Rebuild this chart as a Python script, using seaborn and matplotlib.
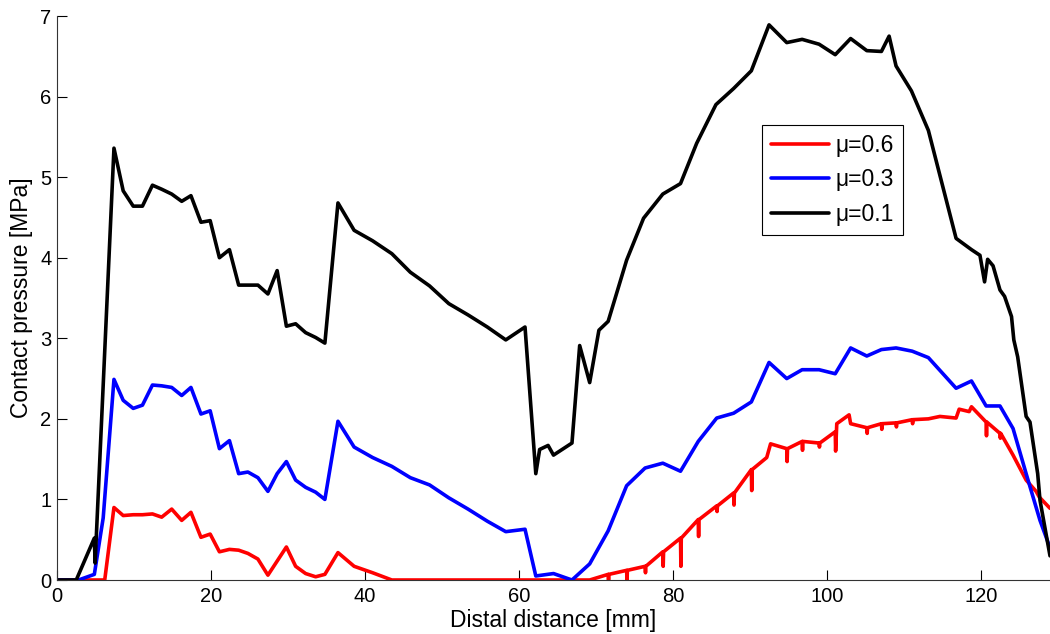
import matplotlib
matplotlib.use("Agg")
import matplotlib.pyplot as plt
import seaborn as sns
import pandas as pd

# ---------------- data ----------------
black_x = [0, 2.5, 4.85, 4.95, 7.4, 8.6, 9.9, 11.1, 12.4, 13.6, 14.9, 16.2, 17.4, 18.7,
           19.9, 21.1, 22.4, 23.6, 24.8, 26.1, 27.4, 28.6, 29.8, 31.0, 32.3, 33.6, 34.8,
           36.5, 38.6, 41.0, 43.5, 45.9, 48.4, 50.9, 53.4, 55.9, 58.3, 60.8, 62.2, 62.7,
           63.8, 64.5, 66.9, 67.9, 69.2, 70.4, 71.6, 74.0, 76.2, 78.7, 81.0, 83.1, 85.6,
           87.9, 90.2, 92.5, 94.8, 96.8, 99.0, 101.1, 103.1, 105.2, 107.1, 108.1, 109.0,
           111.0, 113.2, 116.8, 118.8, 119.9, 120.5, 120.9, 121.6, 122.5, 123.1, 124.0,
           124.3, 124.8, 125.9, 126.4, 127.4, 127.7, 129.0]
black_y = [0, 0, 0.52, 0.21, 5.36, 4.83, 4.64, 4.64, 4.90, 4.85, 4.79, 4.70, 4.77, 4.44,
           4.46, 4.00, 4.10, 3.66, 3.66, 3.66, 3.55, 3.84, 3.15, 3.18, 3.07, 3.01, 2.94,
           4.68, 4.34, 4.21, 4.05, 3.82, 3.65, 3.43, 3.29, 3.14, 2.98, 3.14, 1.32, 1.62,
           1.67, 1.55, 1.70, 2.91, 2.45, 3.10, 3.21, 3.97, 4.49, 4.79, 4.92, 5.42, 5.90,
           6.10, 6.32, 6.89, 6.67, 6.71, 6.65, 6.52, 6.72, 6.57, 6.56, 6.75, 6.38,
           6.07, 5.58, 4.24, 4.10, 4.03, 3.70, 3.98, 3.90, 3.60, 3.52, 3.27,
           2.98, 2.77, 2.03, 1.96, 1.32, 0.99, 0.30]

blue_x = [0, 2.8, 4.85, 6.0, 7.4, 8.6, 9.9, 11.1, 12.4, 13.6, 14.9, 16.2, 17.4, 18.7,
          19.9, 21.1, 22.4, 23.6, 24.8, 26.1, 27.4, 28.6, 29.8, 31.0, 32.3, 33.6, 34.8,
          36.5, 38.6, 41.0, 43.5, 45.9, 48.4, 50.9, 53.4, 55.9, 58.3, 60.8, 62.2, 64.5,
          66.9, 69.2, 71.6, 74.0, 76.4, 78.7, 81.0, 83.3, 85.7, 87.9, 90.2, 92.5, 94.8,
          96.8, 99.0, 101.1, 103.1, 105.2, 107.1, 109.0, 111.1, 113.2, 116.8, 118.8,
          120.7, 122.5, 124.2, 125.9, 127.7, 129.0]
blue_y = [0, 0, 0.07, 0.77, 2.49, 2.23, 2.13, 2.17, 2.42, 2.41, 2.39, 2.29, 2.39, 2.06,
          2.10, 1.63, 1.73, 1.32, 1.34, 1.27, 1.10, 1.32, 1.47, 1.24, 1.15, 1.09, 1.00,
          1.97, 1.65, 1.52, 1.41, 1.27, 1.18, 1.02, 0.88, 0.73, 0.60, 0.63, 0.05, 0.08,
          0.00, 0.20, 0.61, 1.17, 1.39, 1.45, 1.35, 1.72, 2.01, 2.07, 2.21, 2.70, 2.50,
          2.61, 2.61, 2.56, 2.88, 2.78, 2.86, 2.88, 2.84, 2.76, 2.38, 2.47,
          2.16, 2.16, 1.88, 1.32, 0.74, 0.40]

red_x = [0, 6.2, 7.4, 8.6, 9.9, 11.1, 12.4, 13.6, 14.9, 16.2, 17.4, 18.7, 19.9, 21.1,
         22.4, 23.6, 24.8, 26.1, 27.4, 29.8, 31.0, 32.3, 33.6, 34.8, 36.5, 38.6, 41.0,
         43.5, 69.2,
         71.6, 71.65, 71.7, 74.0, 74.05, 74.1, 76.4, 76.45, 76.5, 78.7, 78.75, 78.8,
         81.0, 81.05, 81.1, 83.3, 83.35, 83.4, 85.7, 85.75, 85.8, 87.9, 87.95, 88.0,
         90.2, 90.25, 90.3, 92.2, 92.7, 94.8, 94.85, 94.9, 96.8, 96.85, 96.9,
         99.0, 99.05, 99.1, 101.1, 101.15, 101.3, 102.9, 103.1, 105.2, 105.25, 105.3,
         107.1, 107.15, 107.2, 109.0, 109.05, 109.1, 111.1, 111.15, 111.2,
         113.2, 114.7, 116.8, 117.2, 118.5, 118.8, 120.7, 120.75, 120.8,
         122.5, 122.55, 122.6, 124.2, 125.9, 127.2, 127.6, 129.0]
red_y = [0, 0, 0.90, 0.80, 0.81, 0.81, 0.82, 0.78, 0.88, 0.74, 0.84, 0.53, 0.57, 0.35,
         0.38, 0.37, 0.33, 0.26, 0.06, 0.41, 0.17, 0.08, 0.04, 0.07, 0.34, 0.17, 0.09,
         0.00, 0.00,
         0.07, 0.00, 0.07, 0.12, 0.00, 0.12, 0.17, 0.09, 0.17, 0.35, 0.17, 0.35,
         0.52, 0.17, 0.52, 0.75, 0.54, 0.75, 0.92, 0.85, 0.92, 1.08, 0.93, 1.08,
         1.37, 1.11, 1.37, 1.52, 1.69, 1.63, 1.47, 1.63, 1.72, 1.61, 1.72,
         1.70, 1.65, 1.70, 1.84, 1.60, 1.94, 2.05, 1.94, 1.89, 1.82, 1.89,
         1.94, 1.87, 1.94, 1.95, 1.90, 1.95, 1.99, 1.94, 1.99,
         2.00, 2.03, 2.01, 2.12, 2.09, 2.15, 1.96, 1.79, 1.96,
         1.82, 1.76, 1.82, 1.55, 1.24, 1.10, 1.03, 0.89]

series_labels = ["\u03bc=0.6", "\u03bc=0.3", "\u03bc=0.1"]
series_colors = ["#ff0000", "#0000ff", "#000000"]

x_ticks = [0, 20, 40, 60, 80, 100, 120]
y_ticks = [0, 1, 2, 3, 4, 5, 6, 7]

# ---------------- style ----------------
sns.set_style("ticks")
plt.rcParams["font.family"] = ["Liberation Sans", "DejaVu Sans"]
plt.rcParams["text.color"] = "black"
plt.rcParams["axes.labelcolor"] = "black"
plt.rcParams["xtick.color"] = "black"
plt.rcParams["ytick.color"] = "black"

fig = plt.figure(figsize=(10.5, 6.34), dpi=100)
ax = fig.add_axes([57 / 1050, 54 / 634, 993 / 1050, 564 / 634])

for xs, ys, lab, col in zip([red_x, blue_x, black_x], [red_y, blue_y, black_y],
                            series_labels, series_colors):
    df = pd.DataFrame({"x": xs, "y": ys})
    sns.lineplot(data=df, x="x", y="y", ax=ax, color=col, label=lab,
                 sort=False, estimator=None, linewidth=2.6)

ax.set_xlim(0, 129)
ax.set_ylim(0, 7)
ax.set_xticks(x_ticks)
ax.set_yticks(y_ticks)
ax.set_xlabel("Distal distance [mm]", fontsize=16.5, labelpad=2, color="black")
ax.set_ylabel("Contact pressure [MPa]", fontsize=16.5, labelpad=5, color="black")
ax.tick_params(direction="in", length=7, width=0.8, labelsize=14.5,
               colors="black", labelcolor="black")
ax.tick_params(axis="x", pad=5)
ax.tick_params(axis="y", pad=4)

for s in ["top", "right"]:
    ax.spines[s].set_visible(False)
for s in ["left", "bottom"]:
    ax.spines[s].set_color("#333333")
    ax.spines[s].set_linewidth(0.8)

leg = ax.legend(loc="upper left", bbox_to_anchor=((762 - 57) / 993, (580 - 125) / 564),
                fontsize=16.5, frameon=True, fancybox=False, framealpha=1,
                edgecolor="black", handlelength=2.53, handletextpad=0.26,
                labelspacing=0.49, borderpad=0.4, borderaxespad=0, labelcolor="black")
leg.get_frame().set_linewidth(0.8)
for h in leg.legend_handles:
    h.set_linewidth(2.6)

fig.savefig("out.png", dpi=100)
